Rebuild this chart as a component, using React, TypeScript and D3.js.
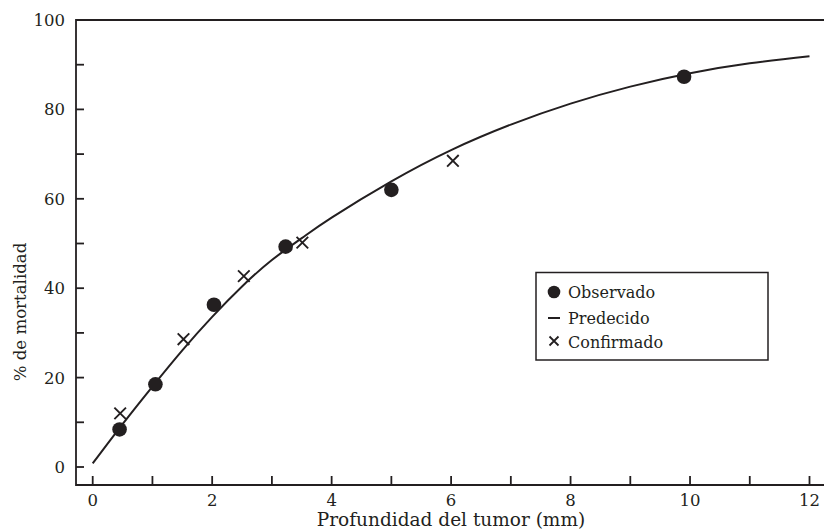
import React, { useEffect, useRef } from "react"
import * as d3 from "d3"

// depth (mm) and mortality (%)
const observedX = [0.45, 1.05, 2.03, 3.23, 5.0, 9.9]
const observedY = [8.4, 18.5, 36.3, 49.3, 62.0, 87.3]

const confirmedX = [0.46, 1.52, 2.53, 3.51, 6.03]
const confirmedY = [12.0, 28.6, 42.7, 50.2, 68.5]

const predictedX = [0, 0.5, 1, 1.5, 2, 2.5, 3, 3.5, 4, 5, 6, 7, 8, 9, 10, 11, 12]
const predictedY = [0.8, 9.6, 18.0, 26.1, 33.6, 40.4, 46.3, 51.2, 55.8, 63.9, 70.9, 76.6, 81.3, 85.1, 88.1, 90.3, 91.9]

const xTickLabels = [0, 2, 4, 6, 8, 10, 12]
const yTickLabels = [0, 20, 40, 60, 80, 100]
const legendLabels = ["Observado", "Predecido", "Confirmado"]

const ink = "#231f20"
const font = "'DejaVu Serif', serif"

export default function App() {
    const ref = useRef<SVGSVGElement>(null)

    useEffect(() => {
        const svg = d3.select(ref.current)
        svg.selectAll("*").remove()

        const width = 824
        const height = 531
        const left = 76
        const top = 20
        const bottom = 485

        const x = d3.scaleLinear().domain([0, 12]).range([92.7, 809.5])
        const y = d3.scaleLinear().domain([0, 100]).range([467, 20])

        svg.attr("width", width).attr("height", height)

        // frame: left, top and bottom lines
        svg.append("path")
            .attr("d", `M${width},${top}H${left}V${bottom}H${width}`)
            .attr("fill", "none")
            .attr("stroke", ink)
            .attr("stroke-width", 1.8)

        // y ticks (every 10, inward)
        svg.append("g")
            .selectAll("line")
            .data(d3.range(0, 100, 10))
            .enter()
            .append("line")
            .attr("x1", left)
            .attr("x2", left + 8)
            .attr("y1", d => y(d))
            .attr("y2", d => y(d))
            .attr("stroke", ink)
            .attr("stroke-width", 1.8)

        svg.append("g")
            .selectAll("text")
            .data(yTickLabels)
            .enter()
            .append("text")
            .attr("x", 65)
            .attr("y", d => y(d))
            .attr("dy", "0.36em")
            .attr("text-anchor", "end")
            .attr("font-family", font)
            .attr("font-size", 16.5)
            .attr("fill", ink)
            .text(d => d)

        // x ticks (every 1, upward)
        svg.append("g")
            .selectAll("line")
            .data(d3.range(0, 13))
            .enter()
            .append("line")
            .attr("x1", d => x(d))
            .attr("x2", d => x(d))
            .attr("y1", bottom)
            .attr("y2", bottom - 9)
            .attr("stroke", ink)
            .attr("stroke-width", 1.8)

        svg.append("g")
            .selectAll("text")
            .data(xTickLabels)
            .enter()
            .append("text")
            .attr("x", d => x(d))
            .attr("y", 506)
            .attr("text-anchor", "middle")
            .attr("font-family", font)
            .attr("font-size", 16.5)
            .attr("fill", ink)
            .text(d => d)

        svg.append("text")
            .attr("x", 451)
            .attr("y", 526)
            .attr("text-anchor", "middle")
            .attr("font-family", font)
            .attr("font-size", 18.5)
            .attr("fill", ink)
            .text("Profundidad del tumor (mm)")

        svg.append("text")
            .attr("transform", "translate(26,312) rotate(-90)")
            .attr("text-anchor", "middle")
            .attr("font-family", font)
            .attr("font-size", 16.6)
            .attr("fill", ink)
            .text("% de mortalidad")

        // predicted curve
        const line = d3.line<number>()
            .x((d, i) => x(predictedX[i]))
            .y(d => y(d))
            .curve(d3.curveNatural)

        svg.append("path")
            .datum(predictedY)
            .attr("d", line)
            .attr("fill", "none")
            .attr("stroke", ink)
            .attr("stroke-width", 2)

        // observed points
        svg.append("g")
            .selectAll("circle")
            .data(observedY)
            .enter()
            .append("circle")
            .attr("cx", (d, i) => x(observedX[i]))
            .attr("cy", d => y(d))
            .attr("r", 7.3)
            .attr("fill", ink)

        // confirmed points
        const cross = (cx: number, cy: number, s: number) =>
            `M${cx - s},${cy - s}L${cx + s},${cy + s}M${cx - s},${cy + s}L${cx + s},${cy - s}`

        svg.append("g")
            .selectAll("path")
            .data(confirmedY)
            .enter()
            .append("path")
            .attr("d", (d, i) => cross(x(confirmedX[i]), y(d), 5.8))
            .attr("stroke", ink)
            .attr("stroke-width", 1.9)
            .attr("fill", "none")

        // legend
        const legend = svg.append("g")
        legend.append("rect")
            .attr("x", 536)
            .attr("y", 272.5)
            .attr("width", 232)
            .attr("height", 87.5)
            .attr("fill", "white")
            .attr("stroke", ink)
            .attr("stroke-width", 1.5)

        const rowY = [292, 318, 342]
        legend.append("circle")
            .attr("cx", 554).attr("cy", rowY[0]).attr("r", 6.3).attr("fill", ink)
        legend.append("line")
            .attr("x1", 548).attr("x2", 560)
            .attr("y1", rowY[1]).attr("y2", rowY[1])
            .attr("stroke", ink).attr("stroke-width", 2)
        legend.append("path")
            .attr("d", cross(554, rowY[2] - 1, 4.5))
            .attr("stroke", ink).attr("stroke-width", 1.8)

        legend.selectAll("text")
            .data(legendLabels)
            .enter()
            .append("text")
            .attr("x", 568)
            .attr("y", (d, i) => rowY[i])
            .attr("dy", "0.36em")
            .attr("font-family", font)
            .attr("font-size", 16)
            .attr("fill", ink)
            .text(d => d)
    }, [])

    return <svg ref={ref} style={{ position: "absolute", left: 0, top: 0 }} />
}
